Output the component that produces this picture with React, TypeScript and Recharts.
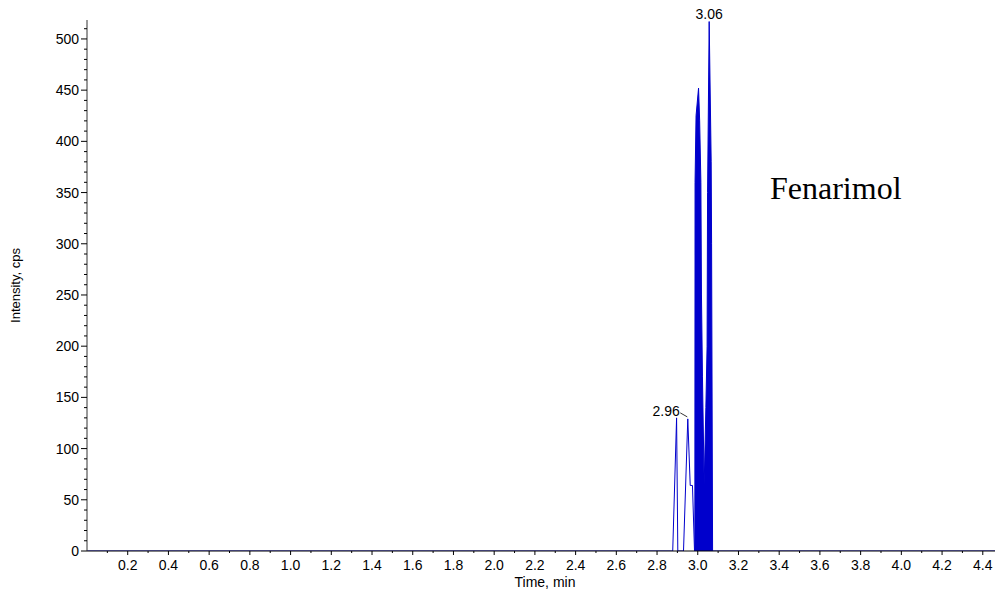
import { Area, ComposedChart, Line, ReferenceDot, XAxis, YAxis } from "recharts"

// retention time (min) and intensity (cps)
const times = [0, 2.87, 2.877, 2.896, 2.902, 2.93, 2.951, 2.963, 2.974, 2.984, 3.09, 4.46]
const intensity = [0, 0, 0, 130, 0, 0, 129, 64, 64, 0, 0, 0]

// the unresolved burst between 2.99 and 3.07 min, drawn as its envelope
const burstTimes = [
  2.9857, 2.9867, 2.9916, 3.0039, 3.0093, 3.0153, 3.0182, 3.0231,
  3.0315, 3.0398, 3.0458, 3.0482, 3.0561, 3.0659, 3.0679, 3.0728,
]
const burstIntensity = [0, 360, 425, 452, 420, 360, 250, 170, 64, 140, 200, 350, 517, 380, 300, 0]

const xLabelTicks = [0.2, 0.4, 0.6, 0.8, 1.0, 1.2, 1.4, 1.6, 1.8, 2.0, 2.2, 2.4, 2.6, 2.8, 3.0, 3.2, 3.4, 3.6, 3.8, 4.0, 4.2, 4.4]
const yLabelTicks = [0, 50, 100, 150, 200, 250, 300, 350, 400, 450, 500]

// minor ticks every 0.1 min / 10 cps
const xTicks = Array.from({ length: 44 }, (_, i) => (i + 1) / 10)
const yTicks = Array.from({ length: 52 }, (_, i) => i * 10)

const peaks = [
  { t: 2.951, v: 129, label: "2.96" },
  { t: 3.0561, v: 517, label: "3.06" },
]

const trace = times.map((t, i) => ({ t, v: intensity[i] }))
const burst = burstTimes.map((t, i) => ({ t, b: burstIntensity[i] }))

const FONT = "Arial, 'Liberation Sans', sans-serif"
const BLUE = "#0000cc"

function XTick({ x, y, payload }: any) {
  const major = xLabelTicks.some((v) => Math.abs(v - payload.value) < 1e-6)
  return (
    <g>
      <line x1={x} y1={y} x2={x} y2={y + (major ? 4 : 2)} stroke="#000" />
      {major && (
        <text x={x} y={y + 19} textAnchor="middle" fontSize={14} fontFamily={FONT} fill="#000">
          {payload.value.toFixed(1)}
        </text>
      )}
    </g>
  )
}

function YTick({ x, y, payload }: any) {
  const major = yLabelTicks.includes(payload.value)
  return (
    <g>
      <line x1={x - (major ? 6 : 3)} y1={y} x2={x} y2={y} stroke="#000" />
      {major && (
        <text x={x - 8} y={y + 5} textAnchor="end" fontSize={14} fontFamily={FONT} fill="#000">
          {payload.value}
        </text>
      )}
    </g>
  )
}

function PeakLabel({ cx, cy, label, side }: any) {
  if (side === "left") {
    return (
      <g>
        <line x1={cx - 7.5} y1={cy - 6} x2={cx - 0.5} y2={cy - 2} stroke="#000" strokeWidth={0.8} />
        <text x={cx - 8} y={cy - 2.5} textAnchor="end" fontSize={14} fontFamily={FONT} fill="#000">
          {label}
        </text>
      </g>
    )
  }
  return (
    <text x={cx} y={cy - 3} textAnchor="middle" fontSize={14} fontFamily={FONT} fill="#000">
      {label}
    </text>
  )
}

function YTitle({ viewBox }: any) {
  const x = viewBox.x + 20
  const y = viewBox.y + viewBox.height / 2
  return (
    <text x={x} y={y} transform={`rotate(-90 ${x} ${y})`} textAnchor="middle" fontSize={13} fontFamily={FONT} fill="#000">
      Intensity, cps
    </text>
  )
}

function XTitle({ viewBox }: any) {
  const x = viewBox.x + viewBox.width / 2 + 4
  const y = viewBox.y + 36
  return (
    <text x={x} y={y} textAnchor="middle" fontSize={14} fontFamily={FONT} fill="#000">
      Time, min
    </text>
  )
}

export default function App() {
  return (
    <div style={{ position: "absolute", left: 0, top: 0, width: 997, height: 596, background: "#fff" }}>
      <ComposedChart width={997} height={596} margin={{ top: 20, right: 2, left: 0, bottom: 0 }}>
        <XAxis
          dataKey="t"
          type="number"
          domain={[0, 4.46]}
          ticks={xTicks}
          tick={<XTick />}
          tickLine={false}
          tickSize={0}
          tickMargin={0}
          height={45}
          axisLine={{ stroke: "#000" }}
          interval={0}
          allowDataOverflow
          label={{ content: <XTitle /> }}
        />
        <YAxis
          type="number"
          domain={[0, 518.5]}
          ticks={yTicks}
          tick={<YTick />}
          tickLine={false}
          tickSize={0}
          tickMargin={0}
          width={87}
          axisLine={{ stroke: "#333" }}
          interval={0}
          allowDataOverflow
          label={{ content: <YTitle /> }}
        />
        <Area
          data={burst}
          dataKey="b"
          type="linear"
          stroke={BLUE}
          strokeWidth={1}
          fill={BLUE}
          fillOpacity={1}
          dot={false}
          activeDot={false}
          isAnimationActive={false}
        />
        <Line
          data={trace}
          dataKey="v"
          type="linear"
          stroke={BLUE}
          strokeWidth={1}
          dot={false}
          activeDot={false}
          isAnimationActive={false}
        />
        {peaks.map((p, i) => (
          <ReferenceDot
            key={p.label}
            x={p.t}
            y={p.v}
            r={0}
            ifOverflow="visible"
            shape={(props: any) => <PeakLabel {...props} label={p.label} side={i === 0 ? "left" : "top"} />}
          />
        ))}
      </ComposedChart>
      <div
        style={{
          position: "absolute",
          left: 770,
          top: 168,
          fontFamily: "'Liberation Serif', 'Times New Roman', serif",
          fontSize: 32,
          lineHeight: "40px",
          color: "#000",
        }}
      >
        Fenarimol
      </div>
    </div>
  )
}
